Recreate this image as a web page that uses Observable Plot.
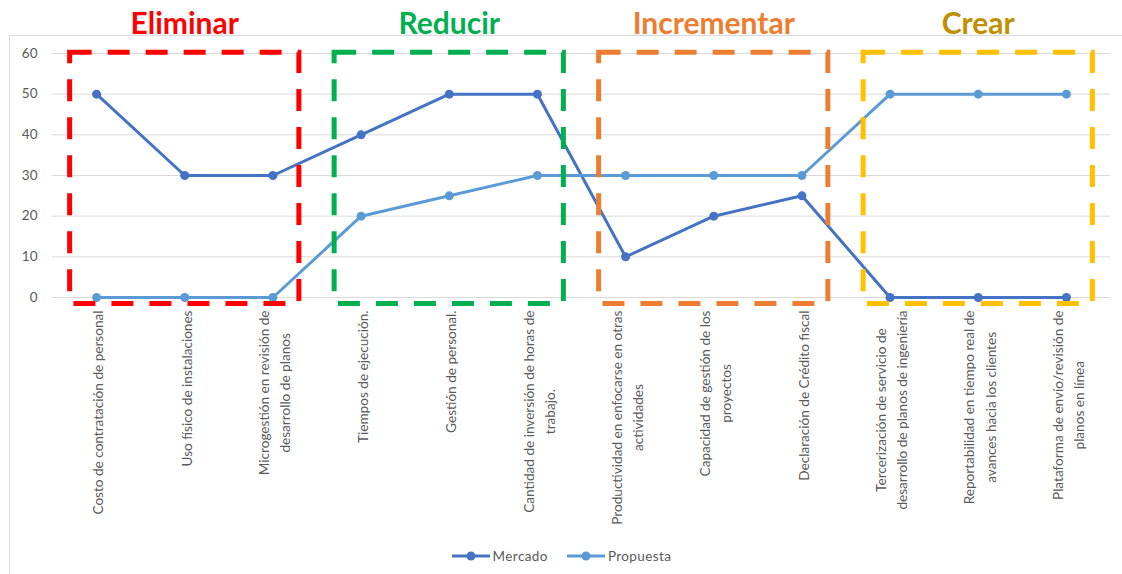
<!DOCTYPE html>
<html>
<head>
<meta charset="utf-8">
<script src="https://cdn.jsdelivr.net/npm/d3@7"></script>
<script src="https://cdn.jsdelivr.net/npm/@observablehq/plot@0.6"></script>
<style>
  html, body { margin: 0; padding: 0; background: #fff; overflow: hidden; }
  body { width: 1122px; height: 574px; position: relative; font-family: Lato, "Open Sans", sans-serif; }
  #frame { position: absolute; left: 9px; top: 35px; width: 1300px; height: 800px; border: 1px solid #d9d9d9; box-sizing: border-box; }
  #chart { position: absolute; left: 0; top: 0; }
  #legend { position: absolute; left: 0; top: 545px; width: 1122px; height: 22px; display: flex; justify-content: center; align-items: center; gap: 18px; font-size: 13.5px; color: #595959; }
  .item { display: flex; align-items: center; gap: 2px; letter-spacing: 0.4px; }
</style>
</head>
<body>
<div id="frame"></div>
<div id="chart"></div>
<div id="legend"></div>
<script>
// Strategy canvas: factors, current market level vs. proposed offer
const factors = [
  "Costo de contratación de personal",
  "Uso físico de instalaciones",
  "Microgestión en revisión de\ndesarrollo de planos",
  "Tiempos de ejecución.",
  "Gestión de personal.",
  "Cantidad de inversión de horas de\ntrabajo.",
  "Productividad en enfocarse en otras\nactividades",
  "Capacidad de gestión de los\nproyectos",
  "Declaración de Crédito fiscal",
  "Tercerización de servicio de\ndesarrollo de planos de ingeniería",
  "Reportabilidad en tiempo real de\navances hacia los clientes",
  "Plataforma de envío/revisión de\nplanos en línea"
];
const mercado   = [50, 30, 30, 40, 50, 50, 10, 20, 25, 0, 0, 0];
const propuesta = [0, 0, 0, 20, 25, 30, 30, 30, 30, 50, 50, 50];
const seriesNames = ["Mercado", "Propuesta"];
const yTicks = [0, 10, 20, 30, 40, 50, 60];

// ERRC actions, each covering a run of factors (first and last index)
const actions    = ["Eliminar", "Reducir", "Incrementar", "Crear"];
const actionFrom = [0, 3, 6, 9];
const actionTo   = [2, 5, 8, 11];

const seriesColors = ["#4472C4", "#5B9BD5"];
const boxColors    = ["#FF0000", "#00B050", "#ED7D31", "#FFC000"];
const titleColors  = ["#FF0000", "#00B050", "#ED7D31", "#BF9000"];

const rows = [];
factors.forEach((f, i) => {
  rows.push({i, serie: seriesNames[0], v: mercado[i]});
  rows.push({i, serie: seriesNames[1], v: propuesta[i]});
});
const boxes = actions.map((a, k) => ({
  name: a, k,
  x1: actionFrom[k] - 0.3, x2: actionTo[k] + 0.3,
  y1: -1.6, y2: 60.2,
  xc: (actionFrom[k] + actionTo[k]) / 2
}));

// measure label lines to centre each wrapped label below its tick
const LABEL_SIZE = 13.6;
const ctx = document.createElement("canvas").getContext("2d");
ctx.font = `${LABEL_SIZE}px Lato`;
const longest = s => d3.max(s.split("\n"), l => ctx.measureText(l).width);

const labelMarks = factors.map((f, i) =>
  Plot.text([f], {
    x: () => i, frameAnchor: "bottom", text: d => d,
    rotate: -90, textAnchor: "middle", lineAnchor: "middle",
    lineHeight: 1.55, fontSize: LABEL_SIZE, fill: "#595959",
    dy: 13 + longest(f) / 2
  })
);

const plot = Plot.plot({
  width: 1122, height: 540,
  marginLeft: 52, marginRight: 12, marginTop: 53, marginBottom: 243,
  style: {fontFamily: "Lato, 'Open Sans', sans-serif", overflow: "visible", background: "transparent"},
  x: {type: "linear", domain: [-0.5, 11.5], axis: null},
  y: {domain: [0, 60], axis: null},
  color: {domain: seriesNames, range: seriesColors},
  marks: [
    Plot.gridY({ticks: yTicks, stroke: "#d9d9d9", strokeOpacity: 1, strokeWidth: 1}),
    Plot.axisY({ticks: yTicks, tickSize: 0, tickPadding: 15, label: null, fontSize: 13.5, color: "#595959"}),
    Plot.line(rows, {x: "i", y: "v", z: "serie", stroke: "serie", strokeWidth: 3}),
    Plot.dot(rows, {x: "i", y: "v", fill: "serie", r: 4.5}),
    Plot.rect(boxes, {x1: "x1", x2: "x2", y1: "y1", y2: "y2", fill: "none",
      stroke: d => boxColors[d.k], strokeWidth: 5, strokeDasharray: "22,16"}),
    Plot.text(boxes, {x: "xc", frameAnchor: "top", dy: -41, text: "name",
      fill: d => titleColors[d.k], fontSize: 30, fontWeight: "bold"}),
    ...labelMarks
  ]
});
document.getElementById("chart").appendChild(plot);

// legend
const legend = d3.select("#legend");
seriesNames.forEach((s, k) => {
  const item = legend.append("div").attr("class", "item");
  const svg = item.append("svg").attr("width", 40).attr("height", 12);
  svg.append("line").attr("x1", 1).attr("x2", 39).attr("y1", 6).attr("y2", 6)
    .attr("stroke", seriesColors[k]).attr("stroke-width", 3);
  svg.append("circle").attr("cx", 20).attr("cy", 6).attr("r", 4.5).attr("fill", seriesColors[k]);
  item.append("span").text(s);
});
</script>
</body>
</html>
